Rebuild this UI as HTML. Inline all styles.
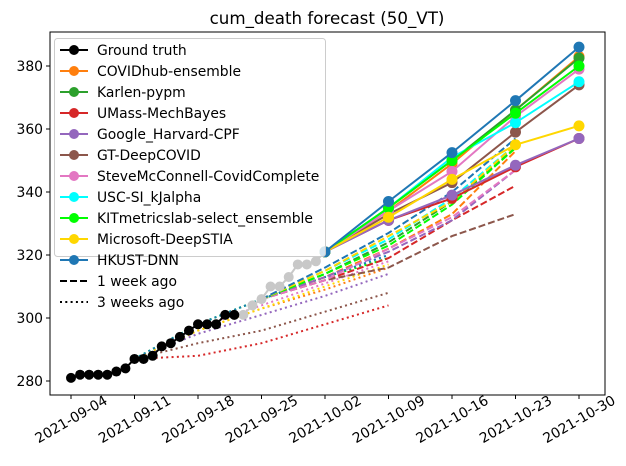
<!DOCTYPE html>
<html><head><meta charset="utf-8"><style>
body{margin:0;background:#fff;}
svg{display:block;font-family:"DejaVu Sans","Liberation Sans",sans-serif;}
</style></head><body>
<svg id="chart" width="626" height="466" xmlns="http://www.w3.org/2000/svg">
<text x="327" y="24" text-anchor="middle" font-size="16.7">cum_death forecast (50_VT)</text>
</svg>
<script>
const xTickLabels = ["2021-09-04","2021-09-11","2021-09-18","2021-09-25","2021-10-02","2021-10-09","2021-10-16","2021-10-23","2021-10-30"];
const yTicks = [280,300,320,340,360,380];
const truthBlack = [281,282,282,282,282,283,284,287,287,288,291,292,294,296,298,298,298,301,301];
const truthGrey = [301,301,304,306,310,310,313,317,317,318,321];
const modelNames = ["COVIDhub-ensemble","Karlen-pypm","UMass-MechBayes","Google_Harvard-CPF","GT-DeepCOVID","SteveMcConnell-CovidComplete","USC-SI_kJalpha","KITmetricslab-select_ensemble","Microsoft-DeepSTIA","HKUST-DNN"];
const modelColors = ["#ff7f0e","#2ca02c","#d62728","#9467bd","#8c564b","#e377c2","#00ffff","#00ff00","#ffd700","#1f77b4"];
const current = [[334,349,366,383],[335,350,366,382.5],[331,338,348,357],[331,339,348.5,357],[333,343,359,374],[334,346.5,364,379],[335,351,362,375],[335,350,365,380],[332,344,355,361],[337,352.5,369,386]];
const weekAgo = [[313,322,333,353],[314,324,337,354],[312,319,331,342],[313,321,331,347],[312,316,326,333],[312,322,332,347],[315,325,338,355],[314,323,336,354],[315,326,337,355],[316,327,340,357]];
const threeWeeksAgo = [[289,296,303,309,316],[290,298,306,313,319],[287,288,292,298,304],[289,295,301,307,314],[288,292,296,302,308],[290,297,304,311,318],[290,298,306,313,320],[290,298,306,313,319],[289,296,303,310,317],[290,298,306,313,320]];

const NS="http://www.w3.org/2000/svg";
const svg=document.getElementById('chart');
const X0=50,X1=605,Y0=32,Y1=395;
function xDay(d){return 71+d*(579-71)/56;}
function yVal(v){return 381-(v-280)*3.15;}
function mk(tag,attrs,parent){const e=document.createElementNS(NS,tag);for(const k in attrs)e.setAttribute(k,attrs[k]);(parent||svg).appendChild(e);return e;}
function pts(days,vals){return vals.map((v,i)=>xDay(days[i]).toFixed(1)+","+yVal(v).toFixed(1)).join(" ");}

const plot=mk('g',{});



threeWeeksAgo.forEach((vals,m)=>{
  const days=[7,14,21,28,35];
  const l=mk('polyline',{points:pts(days,vals.map((v,i)=>i==0?287:v)),fill:'none',stroke:modelColors[m],'stroke-width':2,'stroke-dasharray':'2,3.3'},plot);
  
  
});
weekAgo.forEach((vals,m)=>{
  const days=[21,28,35,42,49];
  const l=mk('polyline',{points:pts(days,[306].concat(vals)),fill:'none',stroke:modelColors[m],'stroke-width':2,'stroke-dasharray':'7,3'},plot);
  
  
});
const bd=truthBlack.map((_,i)=>i), gd=truthGrey.map((_,i)=>i+18);
const gl=mk('polyline',{points:pts(gd,truthGrey),fill:'none',stroke:'#c8c8c8','stroke-width':2},plot);


truthGrey.forEach((v,i)=>{const c=mk('circle',{cx:xDay(gd[i]),cy:yVal(v),r:5,fill:'#c8c8c8'},plot);

});
const bl=mk('polyline',{points:pts(bd,truthBlack),fill:'none',stroke:'#000','stroke-width':2},plot);


truthBlack.forEach((v,i)=>{const c=mk('circle',{cx:xDay(bd[i]),cy:yVal(v),r:5,fill:'#000'},plot);

});
current.forEach((vals,m)=>{
  const days=[28,35,42,49,56];
  const all=[truthGrey[truthGrey.length-1]].concat(vals);
  const l=mk('polyline',{points:pts(days,all),fill:'none',stroke:modelColors[m],'stroke-width':2},plot);
  
  
  all.forEach((v,i)=>{const c=mk('circle',{cx:xDay(days[i]),cy:yVal(v),r:5.5,fill:modelColors[m]},plot);
  
  });
});

const fr=mk('rect',{x:X0,y:Y0,width:X1-X0,height:Y1-Y0,fill:'none',stroke:'#000','stroke-width':1});


yTicks.forEach(v=>{const y=yVal(v);
  mk('line',{x1:X0-4,x2:X0,y1:y,y2:y,stroke:'#000'});
  const t=mk('text',{x:X0-7,y:y+5,'text-anchor':'end','font-size':13.9});t.textContent=v;
  
  
});
xTickLabels.forEach((s,i)=>{const x=xDay(i*7);
  mk('line',{x1:x,x2:x,y1:Y1,y2:Y1+4,stroke:'#000'});
  const cy=Y1+24;
  const t=mk('text',{x:x,y:cy+5,'text-anchor':'middle','font-size':13.9,transform:`rotate(-30 ${x} ${cy})`});t.textContent=s;
  
  
});
const lg=mk('g',{});


mk('rect',{x:54.5,y:38.5,width:271,height:218,rx:3,fill:'rgba(255,255,255,0.8)',stroke:'#cccccc'},lg);
const entries=[["Ground truth","#000","solid",true]].concat(modelNames.map((n,i)=>[n,modelColors[i],"solid",true])).concat([["1 week ago","#000","dash",false],["3 weeks ago","#000","dot",false]]);
entries.forEach((e,i)=>{const y=50+i*21;
  const g=mk('g',{},lg);
  
  
  const da=e[2]=='dash'?'7,3':(e[2]=='dot'?'2,3.3':'none');
  mk('line',{x1:60,x2:88,y1:y,y2:y,stroke:e[1],'stroke-width':2,'stroke-dasharray':da},g);
  if(e[3])mk('circle',{cx:74,cy:y,r:5,fill:e[1]},g);
  const t=mk('text',{x:97,y:y+5,'font-size':13.9},g);t.textContent=e[0];
});
</script>
</body></html>
